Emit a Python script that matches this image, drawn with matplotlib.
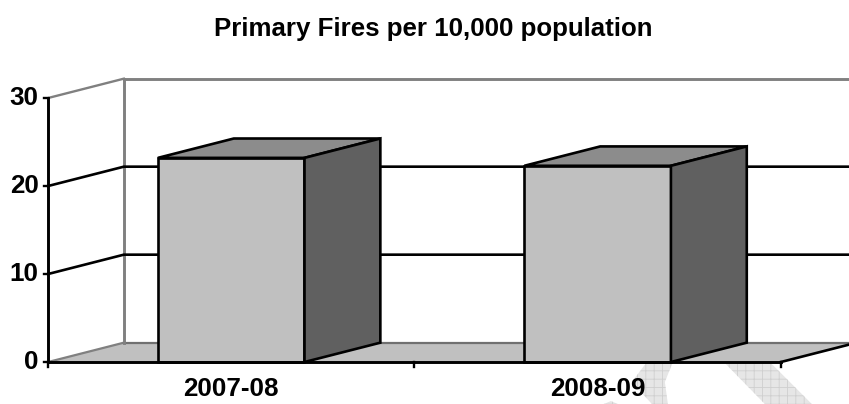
import matplotlib
matplotlib.use('Agg')
import matplotlib.pyplot as plt
from matplotlib.patches import Polygon

plt.rcParams['font.family'] = ['Liberation Sans', 'DejaVu Sans']
plt.rcParams['hatch.linewidth'] = 0.6

# dados
categorias = ['2007-08', '2008-09']
valores = [23.2, 22.3]
y_ticks = [0, 10, 20, 30]
titulo = 'Primary Fires per 10,000 population'

# profundidade do efeito 3D, em unidades dos eixos
dx = 0.207
dy = 2.2
largura = 0.4
n = len(categorias)
y_max = y_ticks[-1]
preto = 1.9

fig = plt.figure(figsize=(8.49, 4.04), dpi=100)
ax = fig.add_axes([0, 0, 1, 1])
ax.set_xlim(-0.131, 2.186)
ax.set_ylim(-4.77, 41.14)
ax.axis('off')


def px(pontos):
    # marca d'agua foi medida em pixels da imagem
    return [((x - 48) / 366.5, (362 - y) / 8.8) for x, y in pontos]


# marca d'agua no fundo
wm = dict(facecolor='#e6e6e6', edgecolor='#cfcfcf', hatch='++', linewidth=0, zorder=0)
ax.add_patch(Polygon(px([(647, 362), (673, 362), (665, 382), (668, 404), (652, 404), (632, 382)]), **wm))
ax.add_patch(Polygon(px([(604, 404), (611, 401), (618, 404)]), **wm))
ax.add_patch(Polygon(px([(724, 362), (770, 362), (812, 404), (765, 404)]), **wm))

# chao e paredes
ax.add_patch(Polygon([(0, 0), (dx, dy), (n + dx, dy), (n, 0)], facecolor='#c0c0c0', edgecolor='none', zorder=1))
ax.plot([0, dx], [0, dy], color='#808080', lw=1.6, zorder=2)
ax.plot([dx, n + dx], [dy, dy], color='#707070', lw=1.6, zorder=2)
ax.plot([dx, dx], [dy, y_max + dy], color='#808080', lw=2.1, zorder=2)
ax.plot([dx, n + dx], [y_max + dy, y_max + dy], color='#808080', lw=2.1, zorder=2)
ax.plot([0, dx], [y_max, y_max + dy], color='#808080', lw=1.7, zorder=2)

# grade
for t in y_ticks[1:-1]:
    ax.plot([0, dx, n + dx], [t, t + dy, t + dy], color='black', lw=preto, zorder=2)

# barras
for i, v in enumerate(valores):
    x0 = i + 0.5 - largura / 2
    x1 = x0 + largura
    estilo = dict(edgecolor='black', linewidth=preto, joinstyle='miter', zorder=3)
    ax.add_patch(Polygon([(x0, 0), (x1, 0), (x1, v), (x0, v)], facecolor='#c0c0c0', **estilo))
    ax.add_patch(Polygon([(x0, v), (x1, v), (x1 + dx, v + dy), (x0 + dx, v + dy)], facecolor='#8c8c8c', **estilo))
    ax.add_patch(Polygon([(x1, 0), (x1 + dx, dy), (x1 + dx, v + dy), (x1, v)], facecolor='#606060', **estilo))

# eixos
ax.plot([0, 0], [0, y_max], color='black', lw=2.1, zorder=4)
ax.plot([0, n], [0, 0], color='black', lw=2.1, zorder=4)
ax.plot([n, n + dx], [0, dy], color='black', lw=preto, zorder=4)
for t in y_ticks:
    ax.plot([-0.012, 0], [t, t], color='black', lw=1.7, zorder=4)
    ax.text(-0.025, t, str(t), ha='right', va='center', fontsize=18.7, fontweight='bold')
for i in range(n + 1):
    ax.plot([i, i], [0, -0.6], color='black', lw=1.7, zorder=4)
for i, c in enumerate(categorias):
    ax.text(i + 0.5, -3.1, c, ha='center', va='center', fontsize=18.7, fontweight='bold')

fig.text(433 / 849, 1 - 29 / 404, titulo, ha='center', va='center', fontsize=18.6, fontweight='bold')

fig.savefig('out.png', dpi=100)
